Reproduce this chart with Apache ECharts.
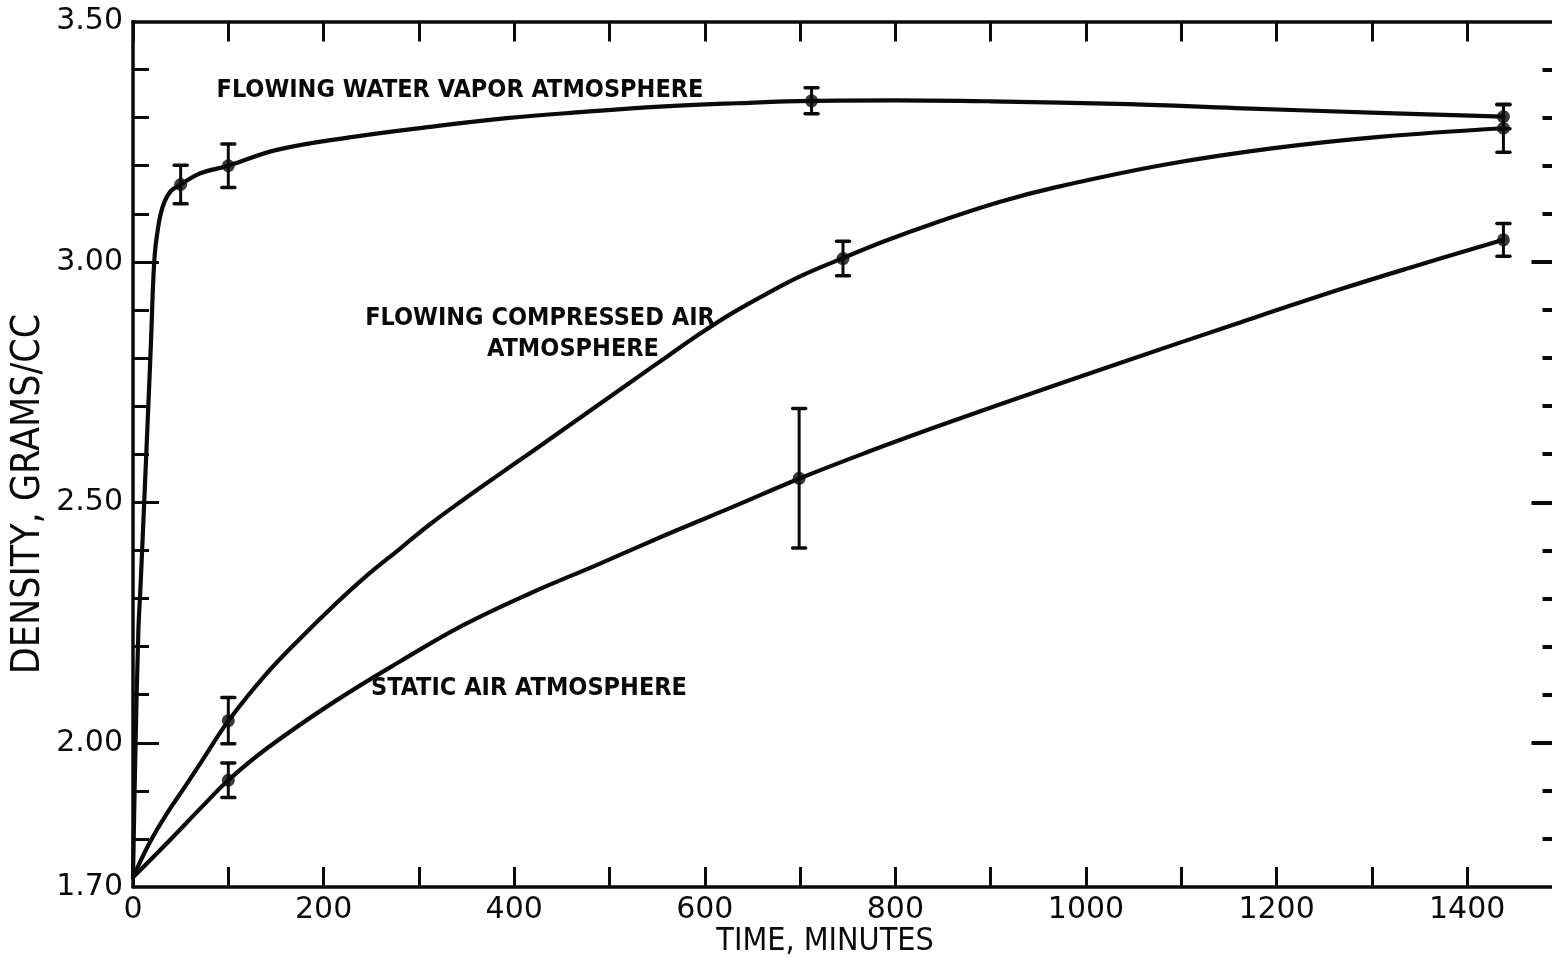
<!DOCTYPE html>
<html>
<head>
<meta charset="utf-8">
<script src="https://cdn.jsdelivr.net/npm/echarts@6/dist/echarts.min.js"></script>
<style>
  html, body { margin: 0; padding: 0; background: #fff; }
  #chart { width: 1552px; height: 961px; }
</style>
</head>
<body>
<div id="chart"></div>
<script>
// Measured densities (g/cc) with error half-widths, time in minutes
const waterTime = [50, 100, 712, 1438];
const waterDensity = [3.161, 3.200, 3.335, 3.302];
const waterErr = [0.040, 0.045, 0.027, 0.025];

const compTime = [100, 745, 1438];
const compDensity = [2.046, 3.007, 3.278];
const compErr = [0.048, 0.036, 0.050];

const staticTime = [100, 699, 1438];
const staticDensity = [1.922, 2.550, 3.046];
const staticErr = [0.036, 0.145, 0.034];

// Smoothed trend curves through the measurements
const waterCurveTime = [0, 2.5, 5.6, 8, 12.4, 16.7, 19, 21, 23, 25.5, 28.5, 33, 40, 50, 70, 100, 151, 231, 312, 392, 473, 553, 633, 712, 800, 900, 1045, 1157, 1307, 1438];
const waterCurveDensity = [1.72, 1.98, 2.23, 2.33, 2.53, 2.73, 2.84, 2.95, 3.02, 3.06, 3.095, 3.125, 3.148, 3.161, 3.184, 3.200, 3.233, 3.260, 3.281, 3.299, 3.312, 3.323, 3.330, 3.335, 3.336, 3.334, 3.328, 3.320, 3.310, 3.302];

const compCurveTime = [0, 18, 36, 53, 71, 100, 139, 176, 210, 242, 281, 312, 347, 382, 417, 452, 490, 525, 561, 596, 630, 666, 700, 745, 787, 840, 910, 970, 1082, 1195, 1308, 1438];
const compCurveDensity = [1.72, 1.794, 1.854, 1.904, 1.958, 2.045, 2.141, 2.218, 2.284, 2.342, 2.405, 2.455, 2.506, 2.555, 2.603, 2.652, 2.705, 2.754, 2.804, 2.852, 2.895, 2.935, 2.970, 3.008, 3.042, 3.080, 3.125, 3.156, 3.202, 3.236, 3.260, 3.278];

const staticCurveTime = [0, 36, 71, 100, 141, 211, 281, 347, 417, 487, 560, 630, 700, 770, 840, 910, 1045, 1157, 1270, 1345, 1438];
const staticCurveDensity = [1.72, 1.792, 1.864, 1.922, 1.989, 2.085, 2.170, 2.245, 2.311, 2.370, 2.433, 2.491, 2.550, 2.604, 2.655, 2.704, 2.796, 2.871, 2.945, 2.991, 3.046];

// Axis ticks and labels
const xLabelValues = [0, 200, 400, 600, 800, 1000, 1200, 1400];
const yLabelValues = [1.7, 2.0, 2.5, 3.0, 3.5];
const yMajorTicks = [2.0, 2.5, 3.0];
const yMinorTicks = [1.8, 1.9, 2.1, 2.2, 2.3, 2.4, 2.6, 2.7, 2.8, 2.9, 3.1, 3.2, 3.3, 3.4];

const seriesLabels = [
  { text: 'FLOWING WATER VAPOR ATMOSPHERE', x: 460, y: 90 },
  { text: 'FLOWING COMPRESSED AIR', x: 540, y: 318 },
  { text: 'ATMOSPHERE', x: 573, y: 349 },
  { text: 'STATIC AIR ATMOSPHERE', x: 529, y: 688 }
];

const INK = '#0a0a0a';
const numFont = '"DejaVu Sans", sans-serif';
const condFont = '"DejaVu Sans Condensed", "DejaVu Sans", sans-serif';

function pairs(xs, ys) { return xs.map((x, i) => [x, ys[i]]); }
function triples(xs, ys, es) { return xs.map((x, i) => [x, ys[i], es[i]]); }

function curveSeries(name, xs, ys) {
  return {
    name: name, type: 'line', data: pairs(xs, ys),
    showSymbol: false, smooth: 0.4,
    lineStyle: { color: INK, width: 4.2, cap: 'round', join: 'round' },
    silent: true, z: 2
  };
}

function errorSeries(xs, ys, es) {
  return {
    type: 'custom', data: triples(xs, ys, es), z: 3, silent: true,
    renderItem: function (params, api) {
      const x = api.value(0), y = api.value(1), e = api.value(2);
      const top = api.coord([x, y + e]);
      const bot = api.coord([x, y - e]);
      const half = 6.5;
      return {
        type: 'group',
        children: [
          { type: 'line', shape: { x1: top[0], y1: top[1], x2: bot[0], y2: bot[1] }, style: { stroke: INK, lineWidth: 3 } },
          { type: 'line', shape: { x1: top[0] - half, y1: top[1], x2: top[0] + half, y2: top[1] }, style: { stroke: INK, lineWidth: 3.5, lineCap: 'round' } },
          { type: 'line', shape: { x1: bot[0] - half, y1: bot[1], x2: bot[0] + half, y2: bot[1] }, style: { stroke: INK, lineWidth: 3.5, lineCap: 'round' } }
        ]
      };
    }
  };
}

function pointSeries(xs, ys) {
  return {
    type: 'scatter', data: pairs(xs, ys), symbol: 'circle', symbolSize: 13,
    itemStyle: { color: INK }, silent: true, z: 4
  };
}

const axisLine = { show: true, lineStyle: { color: INK, width: 3.5 } };

const option = {
  animation: false,
  backgroundColor: '#ffffff',
  // the frame runs to 1500 min, slightly past the right edge of the page
  grid: { left: 133, top: 21.5, width: 1429.5, height: 865.5, outerBoundsMode: 'none', containLabel: false },
  xAxis: [
    {
      type: 'value', position: 'bottom', min: 0, max: 1500, interval: 100,
      axisLine: axisLine,
      axisTick: { inside: true, length: 20, lineStyle: { color: INK, width: 3 } },
      axisLabel: {
        customValues: xLabelValues, color: INK, fontFamily: numFont, fontSize: 30, margin: 8,
        formatter: v => String(v)
      },
      splitLine: { show: false }
    },
    {
      type: 'value', position: 'top', min: 0, max: 1500, interval: 100,
      axisLine: axisLine,
      axisTick: { inside: true, length: 20, lineStyle: { color: INK, width: 3 } },
      axisLabel: { show: false },
      splitLine: { show: false }
    }
  ],
  yAxis: [
    {
      type: 'value', position: 'left', min: 1.7, max: 3.5,
      axisLine: axisLine,
      axisTick: { inside: true, length: 16, customValues: yMinorTicks, lineStyle: { color: INK, width: 3 } },
      axisLabel: {
        customValues: yLabelValues, color: INK, fontFamily: numFont, fontSize: 30, margin: 10,
        formatter: v => Number(v).toFixed(2)
      },
      splitLine: { show: false }
    },
    {
      type: 'value', position: 'left', min: 1.7, max: 3.5,
      axisLine: { show: false },
      axisTick: { inside: true, length: 26, customValues: yMajorTicks, lineStyle: { color: INK, width: 3 } },
      axisLabel: { show: false },
      splitLine: { show: false }
    },
    {
      type: 'value', position: 'right', min: 1.7, max: 3.5,
      axisLine: axisLine,
      axisTick: { inside: true, length: 20, customValues: yMinorTicks, lineStyle: { color: INK, width: 4 } },
      axisLabel: { show: false },
      splitLine: { show: false }
    },
    {
      type: 'value', position: 'right', min: 1.7, max: 3.5,
      axisLine: { show: false },
      axisTick: { inside: true, length: 31, customValues: yMajorTicks, lineStyle: { color: INK, width: 4 } },
      axisLabel: { show: false },
      splitLine: { show: false }
    }
  ],
  series: [
    curveSeries('Flowing water vapor atmosphere', waterCurveTime, waterCurveDensity),
    curveSeries('Flowing compressed air atmosphere', compCurveTime, compCurveDensity),
    curveSeries('Static air atmosphere', staticCurveTime, staticCurveDensity),
    errorSeries(waterTime, waterDensity, waterErr),
    errorSeries(compTime, compDensity, compErr),
    errorSeries(staticTime, staticDensity, staticErr),
    pointSeries(waterTime, waterDensity),
    pointSeries(compTime, compDensity),
    pointSeries(staticTime, staticDensity)
  ],
  graphic: [
    ...seriesLabels.map(l => ({
      type: 'text', x: l.x, y: l.y, silent: true,
      style: {
        text: l.text, fill: INK, textAlign: 'center', textVerticalAlign: 'middle',
        font: 'bold 25px ' + condFont
      }
    })),
    {
      type: 'text', x: 825, y: 942, silent: true,
      style: { text: 'TIME, MINUTES', fill: INK, textAlign: 'center', textVerticalAlign: 'middle', font: '32px ' + condFont }
    },
    {
      type: 'text', x: 29, y: 494, rotation: Math.PI / 2, silent: true,
      style: { text: 'DENSITY, GRAMS/CC', fill: INK, textAlign: 'center', textVerticalAlign: 'middle', font: '39px ' + condFont }
    }
  ]
};

const chart = echarts.init(document.getElementById('chart'), null, { renderer: 'canvas' });
chart.setOption(option);
</script>
</body>
</html>
